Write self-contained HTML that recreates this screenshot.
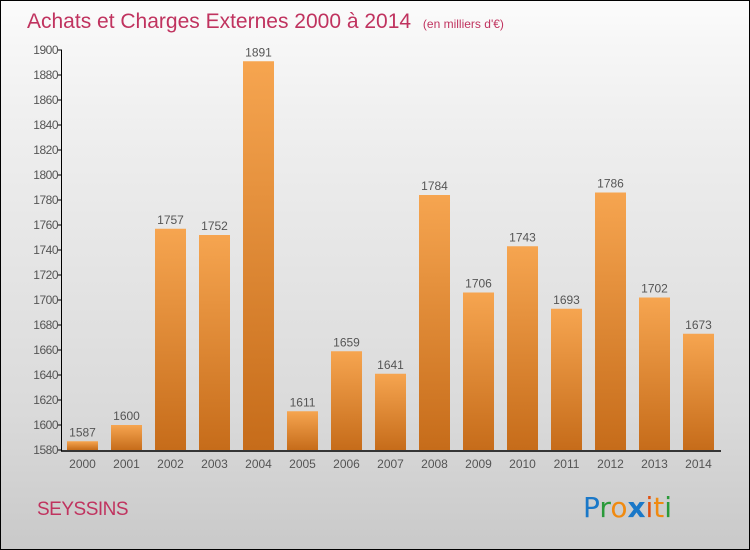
<!DOCTYPE html>
<html><head><meta charset="utf-8"><style>
body{margin:0}
#c{position:relative;width:748px;height:548px;border:1px solid #000;background:linear-gradient(#fbfbfb,#f0f0f0 20%,#dadada 75%,#c9c9c9);overflow:hidden;font-family:"Liberation Sans",sans-serif}
</style></head><body>
<div id="c">
<svg id="s" width="748" height="548">
<text x="26" y="27" font-size="21" fill="#c0335f">Achats et Charges Externes 2000 à 2014 <tspan font-size="12" dx="6">(en milliers d'€)</tspan></text>
<text x="36" y="514" font-size="19" fill="#c0335f" letter-spacing="-0.5">SEYSSINS</text>
<g font-size="28" font-family="'DejaVu Sans',sans-serif">
<text x="582" y="516"><tspan fill="#1a78c8">P</tspan><tspan fill="#2a9a3a">r</tspan><tspan fill="#f08a10">o</tspan><tspan fill="#1a78c8" font-weight="bold">x</tspan><tspan fill="#e05010">i</tspan><tspan fill="#f08a10">t</tspan><tspan fill="#2a9a3a">i</tspan></text>
</g>
<defs><linearGradient id="g" x1="0" y1="0" x2="0" y2="1"><stop offset="0" stop-color="#f6a550"/><stop offset="1" stop-color="#c66c1a"/></linearGradient></defs>
<g id="bars"></g><g id="axes"></g>
</svg></div>
<script>
const years=["2000","2001","2002","2003","2004","2005","2006","2007","2008","2009","2010","2011","2012","2013","2014"];
const values=[1587,1600,1757,1752,1891,1611,1659,1641,1784,1706,1743,1693,1786,1702,1673];
const ticks=[1580,1600,1620,1640,1660,1680,1700,1720,1740,1760,1780,1800,1820,1840,1860,1880,1900];
const NS="http://www.w3.org/2000/svg";
const y=v=>449-(v-1580)*1.25;
const x=i=>66+i*44;
const bars=document.getElementById('bars'),axes=document.getElementById('axes');
function mk(tag,at,p){const e=document.createElementNS(NS,tag);for(const k in at)e.setAttribute(k,at[k]);p.appendChild(e);return e;}
values.forEach((v,i)=>{
 const r=mk('rect',{x:x(i),y:y(v),width:31,height:449-y(v),fill:'url(#g)'},bars);
 
 
 const t=mk('text',{x:x(i)+15.5,y:y(v)-5,'text-anchor':'middle','font-size':12,fill:'#555'},bars);
 t.textContent=v;
 
 
 const xl=mk('text',{x:x(i)+15.5,y:467,'text-anchor':'middle','font-size':12,fill:'#555'},axes);
 xl.textContent=years[i];
 
 
});
ticks.forEach(t=>{
 mk('line',{x1:57,x2:61,y1:y(t),y2:y(t),stroke:'#000'},axes);
 const l=mk('text',{x:57,y:y(t)+4,'text-anchor':'end','font-size':12,fill:'#555','letter-spacing':'-0.5'},axes);
 l.textContent=t;
 
 
});
const ya=mk('line',{x1:60.5,x2:60.5,y1:y(1900),y2:450,stroke:'#000'},axes);


const xa=mk('line',{x1:60,x2:720,y1:450,y2:450,stroke:'#000','stroke-width':1.5},axes);


</script>
</body></html>
